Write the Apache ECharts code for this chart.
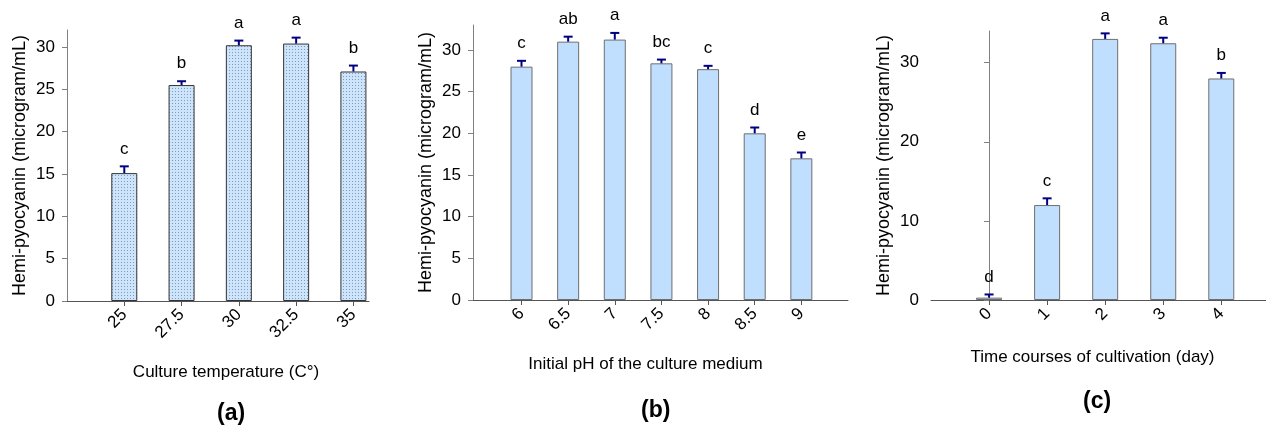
<!DOCTYPE html>
<html><head><meta charset="utf-8">
<script src="https://cdn.jsdelivr.net/npm/echarts@6/dist/echarts.min.js"></script>
<style>html,body{margin:0;padding:0;background:#fff}#c{width:1266px;height:425px}</style>
</head><body><div id="c"></div><script>
// ---- data ----
const tempCats = [25, 27.5, 30, 32.5, 35];
const tempVals = [15.1, 25.5, 30.2, 30.4, 27.1];
const tempErr = [0.8, 0.45, 0.55, 0.7, 0.7];
const tempLetters = ['c', 'b', 'a', 'a', 'b'];

const phCats = [6, 6.5, 7, 7.5, 8, 8.5, 9];
const phVals = [28.0, 31.0, 31.25, 28.4, 27.7, 20.0, 17.0];
const phErr = [0.7, 0.6, 0.8, 0.45, 0.4, 0.7, 0.7];
const phLetters = ['c', 'ab', 'a', 'bc', 'c', 'd', 'e'];

const dayCats = [0, 1, 2, 3, 4];
const dayVals = [0.3, 12.0, 33.0, 32.45, 28.0];
const dayErr = [0.4, 0.85, 0.7, 0.7, 0.7];
const dayLetters = ['d', 'c', 'a', 'a', 'b'];

const yTicksA = [0, 5, 10, 15, 20, 25, 30];
const yTicksB = [0, 5, 10, 15, 20, 25, 30];
const yTicksC = [0, 10, 20, 30];

const titles = {
  yTitle: 'Hemi-pyocyanin (microgram/mL)',
  xA: 'Culture temperature (C°)',
  xB: 'Initial pH of the culture medium',
  xC: 'Time courses of cultivation (day)',
  pA: '(a)', pB: '(b)', pC: '(c)'
};

// ---- styles ----
const FONT = '"Liberation Sans", Arial, sans-serif';
const AXIS = '#808080';
function dotPattern() {
  const c = document.createElement('canvas');
  c.width = 3; c.height = 3;
  const g = c.getContext('2d');
  g.fillStyle = '#cde4fa'; g.fillRect(0, 0, 3, 3);
  g.fillStyle = '#7d9cc2'; g.fillRect(1, 1, 1, 1);
  return c;
}

function xAxis(i, cats, min, max, name, gap, pad) {
  return {
    type: 'value', gridIndex: i, min: min, max: max,
    name: name, nameLocation: 'middle', nameGap: gap,
    nameTextStyle: { color: '#000', fontSize: 17, fontFamily: FONT, padding: pad },
    axisLine: { show: true, lineStyle: { color: '#555', width: 1 } },
    axisTick: { show: true, length: 5, lineStyle: { color: '#555' }, customValues: cats },
    axisLabel: { rotate: 45, margin: 11, fontSize: 17, color: '#000', fontFamily: FONT, customValues: cats, formatter: v => String(v) },
    splitLine: { show: false }
  };
}
function yAxis(i, ticks, max) {
  return {
    type: 'value', gridIndex: i, min: 0, max: max,
    name: titles.yTitle, nameLocation: 'middle', nameGap: 38, nameRotate: 90,
    nameTextStyle: { color: '#000', fontSize: 18, fontFamily: FONT },
    axisLine: { show: true, lineStyle: { color: AXIS, width: 1 } },
    axisTick: { show: true, length: 5, lineStyle: { color: AXIS }, customValues: ticks },
    axisLabel: { margin: 12, fontSize: 17, color: '#000', fontFamily: FONT, customValues: ticks },
    splitLine: { show: false }
  };
}
function barSeries(i, cats, vals, width, color, border) {
  return {
    type: 'bar', xAxisIndex: i, yAxisIndex: i, barWidth: width,
    data: cats.map((c, k) => [c, vals[k]]),
    itemStyle: { color: color, borderColor: border, borderWidth: 1 },
    silent: true
  };
}
function errSeries(i, cats, vals, errs, letters) {
  return {
    type: 'custom', xAxisIndex: i, yAxisIndex: i, z: 5, silent: true,
    data: cats.map((c, k) => [c, vals[k], vals[k] + errs[k]]),
    renderItem: (params, api) => {
      const x = api.value(0);
      const p0 = api.coord([x, api.value(1)]);
      const p1 = api.coord([x, api.value(2)]);
      const hw = 4.5;
      return {
        type: 'group', children: [
          { type: 'line', shape: { x1: p0[0], y1: p0[1], x2: p1[0], y2: p1[1] }, style: { stroke: '#000080', lineWidth: 2 } },
          { type: 'line', shape: { x1: p1[0] - hw, y1: p1[1], x2: p1[0] + hw, y2: p1[1] }, style: { stroke: '#000080', lineWidth: 2 } },
          { type: 'text', style: { text: letters[params.dataIndex], x: p1[0], y: p1[1] - 9, align: 'center', verticalAlign: 'bottom', fill: '#000', fontSize: 17, fontFamily: FONT } }
        ]
      };
    }
  };
}

const chart = echarts.init(document.getElementById('c'), null, { renderer: 'canvas' });
chart.setOption({
  backgroundColor: '#fff',
  animation: false,
  grid: [
    { left: 67, right: 897, top: 30, bottom: 124 },
    { left: 473, right: 418, top: 25, bottom: 125 },
    { left: 931, right: 0, top: 31, bottom: 125 }
  ],
  xAxis: [
    xAxis(0, tempCats, 22.5, 35.68, titles.xA, 63, [0, 0, 0, 16]),
    xAxis(1, phCats, 5.48, 9.5, titles.xB, 56, [0, 30, 0, 0]),
    xAxis(2, dayCats, -1, 4.77, titles.xC, 49, [0, 12, 0, 0])
  ],
  yAxis: [yAxis(0, yTicksA, 32), yAxis(1, yTicksB, 33), yAxis(2, yTicksC, 34)],
  series: [
    barSeries(0, tempCats, tempVals, 26, { image: dotPattern(), repeat: 'repeat' }, '#333'),
    errSeries(0, tempCats, tempVals, tempErr, tempLetters),
    barSeries(1, phCats, phVals, 22, '#c0dfff', '#6e6e6e'),
    errSeries(1, phCats, phVals, phErr, phLetters),
    barSeries(2, dayCats, dayVals, 26, '#c0dfff', '#6e6e6e'),
    errSeries(2, dayCats, dayVals, dayErr, dayLetters)
  ],
  graphic: [
    { type: 'text', left: 217, top: 402, style: { text: titles.pA, fontSize: 23, fontWeight: 'bold', fontFamily: FONT, fill: '#000' } },
    { type: 'text', left: 641, top: 399, style: { text: titles.pB, fontSize: 23, fontWeight: 'bold', fontFamily: FONT, fill: '#000' } },
    { type: 'text', left: 1083, top: 390, style: { text: titles.pC, fontSize: 23, fontWeight: 'bold', fontFamily: FONT, fill: '#000' } }
  ]
});
</script></body></html>
